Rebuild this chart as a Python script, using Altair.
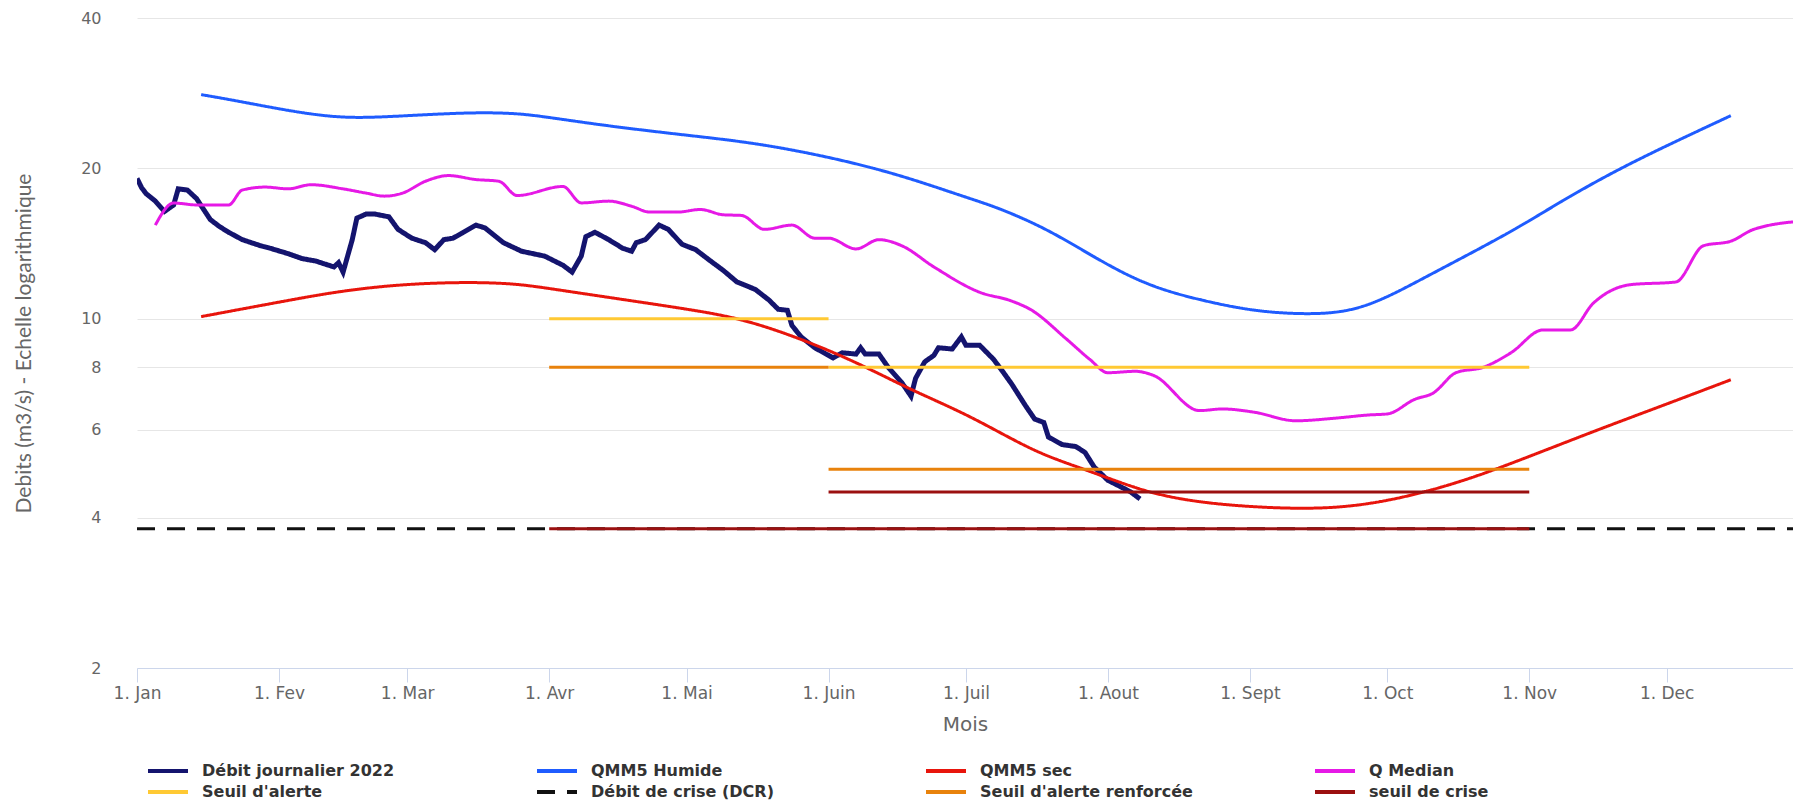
import altair as alt
import pandas as pd

# ---------------- data ----------------
debit_dates = ["2022-01-01","2022-01-02","2022-01-03","2022-01-05","2022-01-07","2022-01-09","2022-01-10",
    "2022-01-12","2022-01-14","2022-01-17","2022-01-19","2022-01-21","2022-01-24","2022-01-28","2022-01-30",
    "2022-02-03","2022-02-06","2022-02-09","2022-02-13","2022-02-14","2022-02-15","2022-02-17","2022-02-18",
    "2022-02-20","2022-02-22","2022-02-25","2022-02-27","2022-03-02","2022-03-05","2022-03-07","2022-03-09",
    "2022-03-11","2022-03-13","2022-03-16","2022-03-18","2022-03-22","2022-03-26","2022-03-31","2022-04-04",
    "2022-04-06","2022-04-08","2022-04-09","2022-04-11","2022-04-14","2022-04-17","2022-04-19","2022-04-20",
    "2022-04-22","2022-04-25","2022-04-27","2022-04-30","2022-05-03","2022-05-06","2022-05-09","2022-05-12",
    "2022-05-16","2022-05-19","2022-05-21","2022-05-23","2022-05-24","2022-05-26","2022-05-29","2022-06-02",
    "2022-06-04","2022-06-07","2022-06-08","2022-06-09","2022-06-12","2022-06-14","2022-06-17","2022-06-19",
    "2022-06-20","2022-06-22","2022-06-24","2022-06-25","2022-06-28","2022-06-30","2022-07-01","2022-07-04",
    "2022-07-07","2022-07-09","2022-07-11","2022-07-14","2022-07-16","2022-07-18","2022-07-19","2022-07-22",
    "2022-07-25","2022-07-27","2022-07-29","2022-08-01","2022-08-04","2022-08-06","2022-08-08"]
debit_values = [19.1,18.3,17.8,17.2,16.4,16.9,18.2,
    18.1,17.4,15.8,15.3,14.9,14.4,14.0,13.85,
    13.5,13.2,13.05,12.7,12.95,12.4,14.4,15.9,
    16.2,16.2,16.0,15.1,14.5,14.2,13.75,14.4,
    14.5,14.85,15.4,15.2,14.2,13.65,13.35,12.8,
    12.4,13.35,14.6,14.9,14.4,13.85,13.65,14.2,
    14.4,15.4,15.1,14.1,13.75,13.1,12.5,11.85,
    11.45,10.9,10.45,10.4,9.7,9.2,8.75,8.35,
    8.55,8.5,8.75,8.5,8.5,8.0,7.45,7.0,
    7.6,8.2,8.45,8.75,8.7,9.2,8.85,8.85,
    8.3,7.85,7.4,6.7,6.3,6.2,5.8,5.6,
    5.55,5.4,5.05,4.75,4.6,4.5,4.36]

humide_dates = ["2022-01-15","2022-01-21","2022-02-01","2022-02-10","2022-02-18","2022-03-01","2022-03-15",
    "2022-03-25","2022-04-01","2022-04-14","2022-05-01","2022-05-16","2022-06-01","2022-06-16","2022-07-01",
    "2022-07-08","2022-07-19","2022-07-30","2022-08-10","2022-08-22","2022-09-02","2022-09-13","2022-09-22",
    "2022-09-30","2022-10-11","2022-10-28","2022-11-08","2022-11-19","2022-11-30","2022-12-15"]
humide_values = [28.1,27.5,26.3,25.5,25.2,25.5,25.9,
    25.8,25.3,24.3,23.3,22.5,21.1,19.5,17.5,
    16.7,15.1,13.1,11.6,10.85,10.35,10.2,10.3,
    10.9,12.35,14.9,17.2,19.6,22.0,25.5]

sec_dates = ["2022-01-15","2022-02-01","2022-02-15","2022-03-01","2022-03-15","2022-03-25","2022-04-01",
    "2022-04-15","2022-05-03","2022-05-13","2022-05-25","2022-06-07","2022-06-19","2022-07-02","2022-07-16",
    "2022-07-27","2022-08-09","2022-08-20","2022-09-01","2022-09-17","2022-10-01","2022-10-17","2022-11-01",
    "2022-11-16","2022-12-01","2022-12-15"]
sec_values = [10.1,10.8,11.4,11.75,11.85,11.75,11.5,
    11.0,10.4,10.0,9.2,8.2,7.2,6.4,5.4,
    5.0,4.5,4.3,4.2,4.15,4.3,4.7,5.3,
    6.0,6.75,7.55]

median_dates = ["2022-01-05","2022-01-09","2022-01-14","2022-01-21","2022-01-24","2022-01-29","2022-02-03",
    "2022-02-08","2022-02-15","2022-02-20","2022-02-24","2022-02-28","2022-03-05","2022-03-10","2022-03-16",
    "2022-03-21","2022-03-25","2022-04-04","2022-04-08","2022-04-14","2022-04-19","2022-04-23","2022-04-29",
    "2022-05-04","2022-05-09","2022-05-13","2022-05-18","2022-05-24","2022-05-29","2022-06-01","2022-06-07",
    "2022-06-12","2022-06-17","2022-06-24","2022-07-04","2022-07-11","2022-07-15","2022-07-23","2022-07-28",
    "2022-08-01","2022-08-07","2022-08-11","2022-08-21","2022-08-26","2022-09-02","2022-09-11","2022-09-20",
    "2022-09-27","2022-10-01","2022-10-07","2022-10-11","2022-10-16","2022-10-22","2022-10-28","2022-11-04",
    "2022-11-10","2022-11-15","2022-11-23","2022-12-03","2022-12-09","2022-12-15","2022-12-20","2022-12-31"]
median_values = [15.4,17.05,16.9,16.9,18.1,18.35,18.2,
    18.55,18.2,17.85,17.6,17.85,18.85,19.35,19.0,
    18.85,17.65,18.4,17.06,17.2,16.8,16.35,16.35,
    16.55,16.15,16.1,15.1,15.4,14.5,14.5,13.8,
    14.4,14.0,12.7,11.3,10.85,10.45,9.1,8.3,
    7.8,7.85,7.7,6.55,6.6,6.5,6.25,6.33,
    6.42,6.45,6.9,7.1,7.8,8.0,8.55,9.5,
    9.5,10.75,11.7,11.85,14.0,14.3,15.1,15.7]

# threshold segments: (start, end, value)
alerte_segments = [("2022-04-01", "2022-06-01", 10.0), ("2022-06-01", "2022-11-01", 8.0)]
dcr_segments = [("2022-01-01", "2022-12-31", 3.8)]
renforcee_segments = [("2022-04-01", "2022-06-01", 8.0), ("2022-06-01", "2022-11-01", 5.0)]
crise_segments = [("2022-04-01", "2022-11-01", 3.8), ("2022-06-01", "2022-11-01", 4.5)]

series_names = ["Débit journalier 2022", "QMM5 Humide", "QMM5 sec", "Q Median",
                "Seuil d'alerte", "Débit de crise (DCR)", "Seuil d'alerte renforcée", "seuil de crise"]
series_colors = ["#14146e", "#1f5cff", "#e8150c", "#e619e6",
                 "#ffc933", "#111111", "#e8820c", "#9b1010"]
series_dashes = [[1, 0], [1, 0], [1, 0], [1, 0], [1, 0], [18, 12], [1, 0], [1, 0]]
series_widths = [5, 3, 3, 3, 3, 3, 3, 3]
series_interp = ["linear", "basis", "basis", "monotone", "linear", "linear", "linear", "linear"]

month_labels = ["1. Jan", "1. Fev", "1. Mar", "1. Avr", "1. Mai", "1. Juin",
                "1. Juil", "1. Aout", "1. Sept", "1. Oct", "1. Nov", "1. Dec"]
y_ticks = [2, 4, 6, 8, 10, 20, 40]

# ---------------- build table ----------------
rows = []
def add_curve(name, dates, values):
    for d, v in zip(dates, values):
        rows.append({"series": name, "seg": name, "date": d, "value": v})

def add_segments(name, segs):
    for i, (a, b, v) in enumerate(segs):
        rows.append({"series": name, "seg": f"{name}-{i}", "date": a, "value": v})
        rows.append({"series": name, "seg": f"{name}-{i}", "date": b, "value": v})

add_curve(series_names[0], debit_dates, debit_values)
add_curve(series_names[1], humide_dates, humide_values)
add_curve(series_names[2], sec_dates, sec_values)
add_curve(series_names[3], median_dates, median_values)
add_segments(series_names[4], alerte_segments)
add_segments(series_names[5], dcr_segments)
add_segments(series_names[6], renforcee_segments)
add_segments(series_names[7], crise_segments)
df = pd.DataFrame(rows)

label_expr = "[" + ",".join("'" + m + "'" for m in month_labels) + "][utcmonth(datum.value)]"

x_enc = alt.X("date:T",
    scale=alt.Scale(type="utc", domain=[alt.DateTime(year=2022, month=1, date=1, utc=True),
                                         alt.DateTime(year=2022, month=12, date=28, hours=14, utc=True)]),
    axis=alt.Axis(values=[alt.DateTime(year=2022, month=m, date=1, utc=True) for m in range(1, 13)],
                  labelExpr=label_expr, title="Mois", titleFont="DejaVu Sans", titleFontSize=20,
                  titleFontWeight="normal", titleColor="#666666", titleY=56, titleBaseline="middle",
                  labelFont="DejaVu Sans", labelFontSize=17, labelColor="#666666", labelPadding=3,
                  tickSize=14, tickColor="#ccd6eb", domainColor="#ccd6eb", grid=False,
                  labelFlush=False, labelOverlap=False))
y_enc = alt.Y("value:Q",
    scale=alt.Scale(type="log", domain=[2, 40], nice=False),
    axis=alt.Axis(values=y_ticks, format="~g", title="Debits (m3/s) - Echelle logarithmique",
                  titleFont="Lato", titleFontSize=21, titleFontWeight="normal", titleColor="#666666",
                  titleX=-113, titleY=325, titleAngle=-90, titleBaseline="middle", titleAlign="center",
                  labelFont="DejaVu Sans", labelFontSize=16, labelColor="#666666", labelPadding=36,
                  ticks=False, domain=False, grid=True, gridColor="#e6e6e6", gridWidth=1))

leg = alt.Legend(title=None, orient="none", legendX=19, legendY=741, direction="horizontal",
                 columns=4, gridAlign="all", columnPadding=114, rowPadding=1,
                 symbolType="M-2,0H2", symbolSize=400, symbolStrokeWidth=4,
                 labelFont="DejaVu Sans", labelFontSize=16, labelFontWeight="bold",
                 labelColor="#333333", labelOffset=22, labelLimit=400)

color_enc = alt.Color("series:N", scale=alt.Scale(domain=series_names, range=series_colors), legend=leg)
dash_enc = alt.StrokeDash("series:N", scale=alt.Scale(domain=series_names, range=series_dashes), legend=leg)

layers = []
for name, w, interp in zip(series_names, series_widths, series_interp):
    layer = alt.Chart(df).transform_filter(alt.datum.series == name).mark_line(
        strokeWidth=w, clip=True, interpolate=interp
    ).encode(x=x_enc, y=y_enc, color=color_enc, strokeDash=dash_enc, detail="seg:N")
    layers.append(layer)

chart = alt.layer(*layers).properties(
    width=1656, height=650,
    autosize=alt.AutoSizeParams(type="none"),
    padding={"left": 129, "top": 10, "right": 0, "bottom": 132},
    background="white",
).configure_view(stroke=None)

chart.save("out.html", embed_options={"renderer": "svg", "actions": False})
